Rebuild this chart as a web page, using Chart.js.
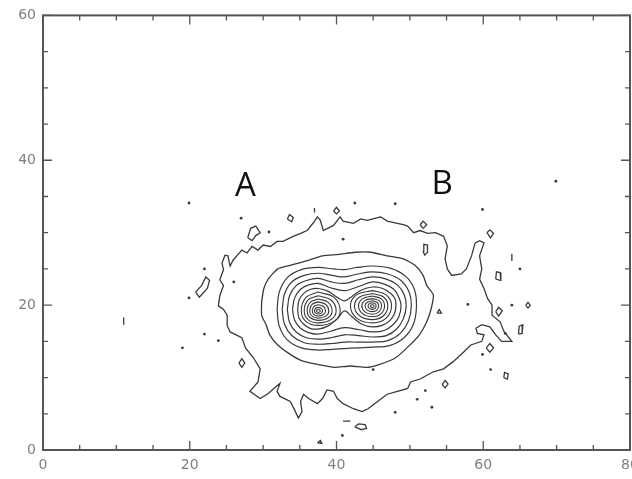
<!DOCTYPE html>
<html>
<head>
<meta charset="utf-8">
<script src="https://cdn.jsdelivr.net/npm/chart.js@4.4.1/dist/chart.umd.min.js"></script>
<style>
  html, body { margin: 0; padding: 0; background: #fff; overflow: hidden; }
  #wrap { width: 640px; height: 479px; }
</style>
</head>
<body>
<div id="wrap"><canvas id="chart" width="640" height="479"></canvas></div>
<script>
// Axis ranges and labelled ticks
const xRange = [0, 80];
const yRange = [0, 60];
const xLabels = [0, 20, 40, 60, 80];
const yLabels = [0, 20, 40, 60];

// Text labels placed in data coordinates
const letterText = ['A', 'B'];
const letterPos = [[27.6, 36.4], [54.4, 36.7]];

// Lowest level: the ragged outer contour
const outerContour = [
    [46.0,32.2],[44.2,31.7],[43.3,31.9],[42.3,31.3],[40.9,31.6],[40.5,32.2],[39.6,31.0],[38.2,30.3],
    [37.8,31.7],[37.4,32.2],[36.8,31.3],[36.0,30.3],[35.1,29.9],[34.1,29.5],[32.7,28.8],[31.9,28.8],
    [31.0,28.1],[30.0,28.3],[29.3,27.6],[28.5,28.1],[27.8,27.2],[27.1,27.6],[26.5,26.9],[25.9,26.2],
    [25.5,25.4],[25.2,26.8],[24.8,26.9],[24.4,25.8],[24.6,24.9],[24.1,23.5],[24.6,22.7],[24.1,21.3],
    [23.9,19.9],[24.6,19.4],[25.1,18.6],[25.1,17.2],[25.5,16.3],[27.1,15.5],[27.6,14.1],[28.7,12.7],
    [29.6,11.2],[29.3,9.4],[28.2,8.1],[29.6,7.1],[30.7,7.8],[31.7,8.7],[32.3,9.2],[31.9,8.1],
    [32.3,7.4],[33.7,6.7],[34.4,5.3],[34.8,4.4],[35.3,5.3],[35.1,6.7],[35.5,7.7],[36.2,7.1],
    [37.4,6.4],[38.1,7.1],[38.7,8.3],[39.6,8.1],[40.1,7.1],[40.9,6.4],[42.3,5.7],[43.5,5.3],
    [44.3,5.7],[45.6,6.7],[46.9,7.7],[48.3,8.1],[49.7,8.5],[50.1,9.4],[51.4,9.8],[53.2,10.8],
    [54.6,11.2],[55.9,12.2],[57.3,13.5],[58.3,14.5],[59.8,15.0],[60.1,15.9],[59.2,16.1],[59.0,16.8],
    [59.8,17.3],[60.9,17.0],[61.7,15.9],[62.5,15.0],[63.9,15.0],[62.8,16.4],[62.3,17.7],[61.2,18.6],
    [61.2,20.0],[60.6,20.9],[60.1,22.3],[59.5,23.6],[59.8,25.0],[59.5,26.8],[60.1,28.6],[59.5,28.9],
    [58.9,28.6],[58.4,26.8],[57.7,25.0],[57.0,24.3],[55.7,24.1],[55.1,25.0],[54.8,26.4],[55.1,28.2],
    [54.6,29.5],[53.5,30.0],[52.4,29.9],[51.4,30.3],[50.5,30.0],[49.7,30.9],[49.1,31.1],[48.3,31.3],
    [46.9,31.6],[46.0,32.2]
];

// Second level: wavy oval
const secondContour = [
    [29.8,20.5],[30.1,22.3],[30.7,23.6],[32.0,25.0],[33.7,25.5],[35.9,26.1],[38.1,26.8],[40.3,27.0],
    [42.5,27.3],[44.7,27.3],[46.9,26.8],[49.1,26.4],[50.7,25.5],[51.8,24.1],[52.3,22.7],[53.2,21.4],
    [52.9,19.5],[52.3,17.7],[51.3,15.9],[49.6,14.1],[48.0,12.7],[45.8,11.8],[44.1,11.4],[41.9,11.6],
    [39.7,11.4],[37.5,11.8],[35.3,12.3],[33.7,13.2],[32.0,14.5],[30.9,15.9],[30.4,17.3],[29.8,18.6],
    [29.8,20.5]
];

// Peanut-shaped levels enclosing both peaks
const peanut3 = [
    [31.9,19.4],[32.2,21.8],[33.3,23.8],[35.2,24.9],[37.5,25.2],[39.6,25.0],[41.1,24.9],[42.8,25.2],
    [44.9,25.4],[47.3,25.1],[49.4,24.0],[50.6,22.2],[50.9,19.9],[50.5,17.4],[49.2,15.5],[47.2,14.4],
    [44.9,14.2],[42.8,14.1],[41.1,14.0],[39.4,13.9],[37.5,13.8],[35.2,14.1],[33.3,15.2],[32.2,17.1],
    [31.9,19.4]
];
const peanut4 = [
    [32.6,19.4],[32.9,21.5],[33.9,23.2],[35.6,24.1],[37.5,24.4],[39.4,24.1],[41.1,23.9],[42.9,24.3],
    [44.9,24.6],[47.0,24.3],[48.8,23.4],[49.9,21.8],[50.2,19.9],[49.8,17.8],[48.7,16.1],[47.0,15.1],
    [44.9,14.9],[42.9,14.9],[41.1,14.9],[39.4,14.7],[37.5,14.6],[35.6,14.8],[33.9,15.8],[32.9,17.4],
    [32.6,19.4]
];
const peanut5 = [
    [33.3,19.4],[33.6,21.3],[34.5,22.7],[35.9,23.4],[37.5,23.7],[39.3,23.2],[41.1,23.0],[43.0,23.5],
    [44.9,23.9],[46.8,23.6],[48.3,22.8],[49.2,21.5],[49.5,19.9],[49.1,18.1],[48.2,16.7],[46.8,15.8],
    [44.9,15.6],[43.0,15.8],[41.1,15.9],[39.3,15.5],[37.5,15.3],[35.9,15.5],[34.5,16.3],[33.6,17.6],
    [33.3,19.4]
];
const peanut6 = [
    [34.0,19.4],[34.3,21.0],[35.1,22.2],[36.2,22.8],[37.5,23.0],[39.2,22.4],[41.1,22.0],[43.1,22.6],
    [44.9,23.2],[46.5,22.9],[47.8,22.2],[48.5,21.1],[48.8,19.9],[48.5,18.4],[47.7,17.3],[46.5,16.5],
    [44.9,16.3],[43.1,16.6],[41.1,16.9],[39.2,16.4],[37.5,16.0],[36.2,16.2],[35.1,16.8],[34.3,17.9],
    [34.0,19.4]
];
const peanut7 = [
    [34.7,19.3],[34.9,20.7],[35.6,21.7],[36.5,22.2],[37.5,22.3],[38.9,21.9],[40.2,21.0],[41.1,20.6],
    [42.1,21.2],[43.4,22.1],[44.9,22.5],[46.3,22.3],[47.4,21.6],[48.0,20.8],[48.1,19.9],[47.9,18.8],
    [47.2,17.8],[46.2,17.2],[44.9,17.0],[43.4,17.4],[42.1,18.4],[41.1,19.2],[40.1,18.1],[38.8,17.1],
    [37.5,16.7],[36.4,16.8],[35.5,17.4],[34.9,18.2],[34.7,19.3]
];

// Rings round the left peak (outermost first)
const leftRing1 = [[37.5,21.8],[35.84,21.07],[35.2,19.2],[35.84,17.76],[37.5,17.2],[39.66,17.76],[40.5,19.2],[39.66,21.07],[37.5,21.8]];
const leftRing2 = [[37.5,21.3],[36.13,20.71],[35.6,19.2],[36.13,18.01],[37.5,17.55],[39.26,18.01],[39.95,19.2],[39.26,20.71],[37.5,21.3]];
const leftRing3 = [[37.5,20.85],[36.42,20.39],[36.0,19.2],[36.42,18.26],[37.5,17.9],[38.87,18.26],[39.4,19.2],[38.87,20.39],[37.5,20.85]];
const leftRing4 = [[37.5,20.45],[36.67,20.1],[36.35,19.2],[36.67,18.48],[37.5,18.2],[38.54,18.48],[38.95,19.2],[38.54,20.1],[37.5,20.45]];
const leftRing5 = [[37.5,20.05],[36.92,19.81],[36.7,19.2],[36.92,18.7],[37.5,18.5],[38.22,18.7],[38.5,19.2],[38.22,19.81],[37.5,20.05]];
const leftRing6 = [[37.5,19.7],[37.14,19.56],[37.0,19.2],[37.14,18.9],[37.5,18.78],[37.93,18.9],[38.1,19.2],[37.93,19.56],[37.5,19.7]];
const leftRing7 = [[37.5,19.45],[37.25,19.2],[37.5,19.0],[37.8,19.2],[37.5,19.45]];

// Rings round the right peak (outermost first)
const rightRing1 = [[44.9,22.0],[42.74,21.41],[41.9,19.9],[42.74,18.21],[44.9,17.55],[46.77,18.21],[47.5,19.9],[46.77,21.41],[44.9,22.0]];
const rightRing2 = [[44.9,21.6],[43.14,21.12],[42.45,19.9],[43.14,18.53],[44.9,18.0],[46.41,18.53],[47.0,19.9],[46.41,21.12],[44.9,21.6]];
const rightRing3 = [[44.9,21.25],[43.53,20.87],[43.0,19.9],[43.53,18.82],[44.9,18.4],[46.09,18.82],[46.55,19.9],[46.09,20.87],[44.9,21.25]];
const rightRing4 = [[44.9,20.9],[43.86,20.62],[43.45,19.9],[43.86,19.07],[44.9,18.75],[45.8,19.07],[46.15,19.9],[45.8,20.62],[44.9,20.9]];
const rightRing5 = [[44.9,20.6],[44.18,20.4],[43.9,19.9],[44.18,19.32],[44.9,19.1],[45.51,19.32],[45.75,19.9],[45.51,20.4],[44.9,20.6]];
const rightRing6 = [[44.9,20.32],[44.47,20.2],[44.3,19.9],[44.47,19.55],[44.9,19.42],[45.26,19.55],[45.4,19.9],[45.26,20.2],[44.9,20.32]];
const rightRing7 = [[44.9,20.1],[44.6,19.9],[44.9,19.66],[45.15,19.9],[44.9,20.1]];

// Small isolated loops and dashes of the lowest level
const islands = [
    [[33.3,31.9],[33.6,32.5],[34.1,32.1],[33.9,31.5],[33.3,31.9]],
    [[39.6,33.0],[40.0,33.5],[40.4,33.0],[40.0,32.6],[39.6,33.0]],
    [[27.9,29.3],[28.3,30.6],[29.0,30.9],[29.6,30.0],[29.0,29.6],[28.5,28.9],[27.9,29.3]],
    [[20.8,21.8],[21.6,22.7],[22.2,23.9],[22.7,23.4],[22.4,22.3],[21.3,21.1],[20.8,21.8]],
    [[26.7,12.0],[27.1,12.6],[27.5,12.0],[27.1,11.4],[26.7,12.0]],
    [[42.5,3.2],[43.0,3.6],[43.9,3.5],[44.1,3.0],[43.4,2.8],[42.5,3.2]],
    [[51.4,31.1],[51.8,31.6],[52.3,31.1],[51.8,30.6],[51.4,31.1]],
    [[51.8,27.5],[51.9,28.4],[52.4,28.3],[52.4,27.3],[52.0,26.9],[51.8,27.5]],
    [[60.5,30.0],[60.9,30.4],[61.4,29.9],[61.0,29.3],[60.5,30.0]],
    [[61.7,23.6],[61.8,24.6],[62.3,24.5],[62.4,23.4],[61.7,23.6]],
    [[61.7,19.1],[62.1,19.7],[62.6,19.2],[62.1,18.5],[61.7,19.1]],
    [[64.8,16.0],[64.9,17.1],[65.4,17.3],[65.3,16.1],[64.8,16.0]],
    [[60.4,14.1],[60.9,14.7],[61.4,14.1],[60.9,13.5],[60.4,14.1]],
    [[62.8,10.0],[62.9,10.7],[63.4,10.5],[63.3,9.8],[62.8,10.0]],
    [[54.4,9.0],[54.8,9.6],[55.2,9.1],[54.8,8.6],[54.4,9.0]],
    [[65.8,20.0],[66.1,20.4],[66.4,20.0],[66.1,19.6],[65.8,20.0]],
    [[53.7,18.9],[54.0,19.4],[54.3,18.9],[53.7,18.9]],
    [[37.4,1.0],[37.8,1.3],[38.0,0.9],[37.4,1.0]],
    [[40.9,4.0],[41.9,4.0]],
    [[11.0,17.3],[11.0,18.3]],
    [[63.9,26.1],[63.9,27.1]],
    [[37.0,32.8],[37.0,33.4]]
];

// Single-pixel specks
const specks = [
    [19.9,34.1],[27.0,32.0],[42.5,34.1],[48.0,34.0],[69.9,37.1],[59.9,33.2],[40.9,29.1],[30.8,30.1],
    [19.9,21.0],[22.0,16.0],[23.9,15.1],[19.0,14.1],[57.9,20.1],[63.9,20.0],[65.0,25.0],[59.9,13.2],
    [61.0,11.1],[51.0,7.0],[53.0,5.9],[48.0,5.2],[52.1,8.2],[40.8,2.0],[63.0,16.1],[45.0,11.1],
    [26.0,23.2],[22.0,25.0]
];

const lineColor = '#3a3a3a';
const toXY = arr => arr.map(p => ({ x: p[0], y: p[1] }));

function contourSet(arr, tension, width) {
    return {
        data: toXY(arr),
        showLine: true,
        borderColor: lineColor,
        borderWidth: width || 1.3,
        pointRadius: 0,
        tension: tension,
        fill: false
    };
}

const datasets = [];
datasets.push(contourSet(outerContour, 0));
islands.forEach(isl => datasets.push(contourSet(isl, 0)));
datasets.push(contourSet(secondContour, 0.2));
[peanut3, peanut4, peanut5, peanut6, peanut7].forEach(c => datasets.push(contourSet(c, 0.35, 1.2)));
[leftRing1, leftRing2, leftRing3, leftRing4, leftRing5, leftRing6, leftRing7,
 rightRing1, rightRing2, rightRing3, rightRing4, rightRing5, rightRing6, rightRing7]
    .forEach(c => datasets.push(contourSet(c, 0.4, 1.1)));
datasets.push({
    data: toXY(specks),
    showLine: false,
    pointRadius: 1.4,
    pointBackgroundColor: lineColor,
    pointBorderWidth: 0
});

// Frame with inward ticks on all four sides, plus the A / B letters
const framePlugin = {
    id: 'frame',
    afterDatasetsDraw(chart) {
        const { ctx, chartArea: a, scales: { x, y } } = chart;
        ctx.save();
        ctx.strokeStyle = '#555';
        ctx.lineWidth = 1.3;
        x.ticks.forEach(t => {
            const px = x.getPixelForValue(t.value);
            const len = xLabels.includes(t.value) ? 9 : 5;
            ctx.beginPath();
            ctx.moveTo(px, a.bottom); ctx.lineTo(px, a.bottom - len);
            ctx.moveTo(px, a.top); ctx.lineTo(px, a.top + len);
            ctx.stroke();
        });
        y.ticks.forEach(t => {
            const py = y.getPixelForValue(t.value);
            const len = yLabels.includes(t.value) ? 9 : 5;
            ctx.beginPath();
            ctx.moveTo(a.left, py); ctx.lineTo(a.left + len, py);
            ctx.moveTo(a.right, py); ctx.lineTo(a.right - len, py);
            ctx.stroke();
        });
        ctx.lineWidth = 2;
        ctx.strokeRect(a.left, a.top, a.right - a.left, a.bottom - a.top);

        ctx.fillStyle = '#111';
        ctx.font = '33px "Open Sans"';
        ctx.textAlign = 'center';
        ctx.textBaseline = 'middle';
        letterText.forEach((txt, i) => {
            ctx.fillText(txt, x.getPixelForValue(letterPos[i][0]), y.getPixelForValue(letterPos[i][1]));
        });
        ctx.restore();
    }
};

const tickFont = { family: 'DejaVu Sans', size: 14 };

new Chart(document.getElementById('chart'), {
    type: 'scatter',
    data: { datasets: datasets },
    options: {
        responsive: false,
        animation: false,
        devicePixelRatio: 1,
        layout: { padding: { top: 10, right: 10, left: 0, bottom: 0 } },
        plugins: { legend: { display: false }, tooltip: { enabled: false } },
        scales: {
            x: {
                type: 'linear',
                min: xRange[0], max: xRange[1],
                grid: { display: false, drawTicks: false },
                border: { display: false },
                ticks: {
                    stepSize: 5, autoSkip: false, maxRotation: 0,
                    padding: 7, color: '#808080', font: tickFont,
                    callback: v => xLabels.includes(v) ? v : ''
                },
                afterFit: s => { s.height = 29; s.paddingLeft = 0; s.paddingRight = 0; }
            },
            y: {
                type: 'linear',
                min: yRange[0], max: yRange[1],
                grid: { display: false, drawTicks: false },
                border: { display: false },
                ticks: {
                    stepSize: 5, autoSkip: false,
                    padding: 7, color: '#808080', font: tickFont,
                    callback: v => yLabels.includes(v) ? v : ''
                },
                afterFit: s => { s.width = 43; }
            }
        }
    },
    plugins: [framePlugin]
});
</script>
</body>
</html>
